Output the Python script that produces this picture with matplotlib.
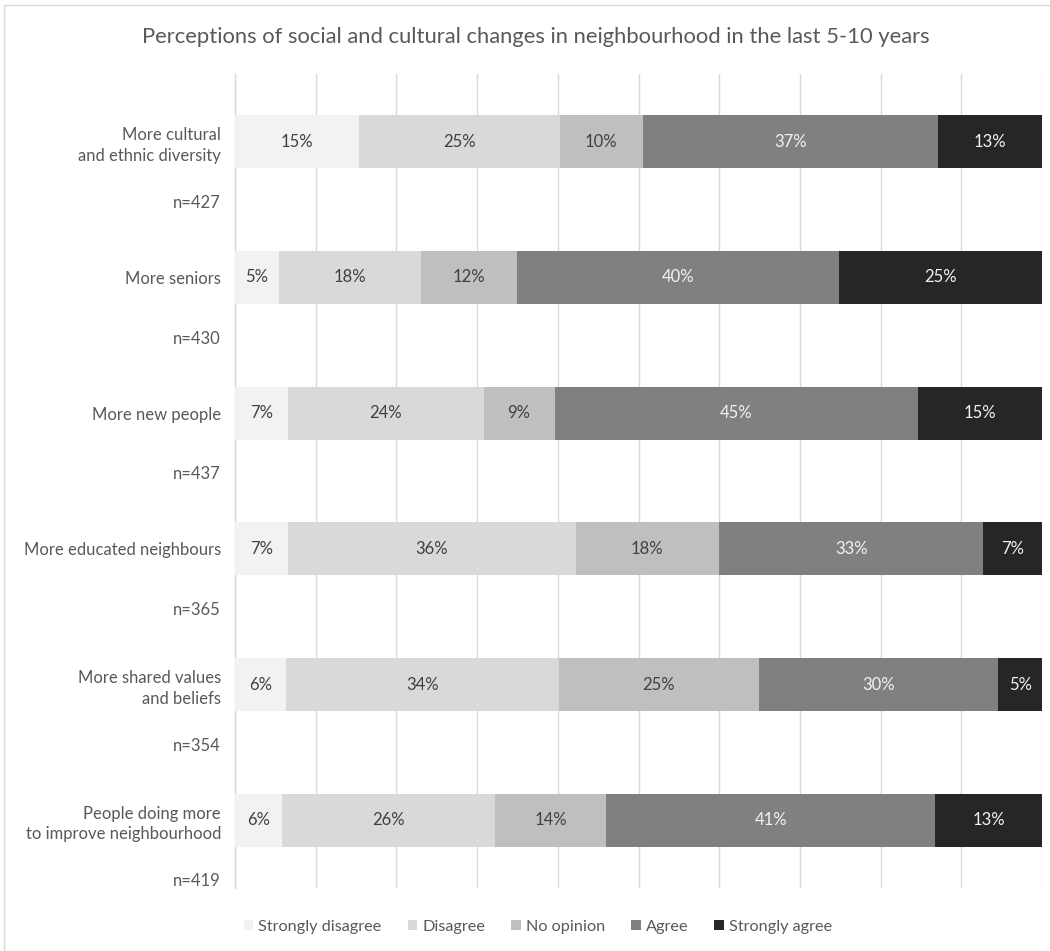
import matplotlib
matplotlib.use("Agg")
import matplotlib.pyplot as plt
from matplotlib.patches import Rectangle, Patch
import numpy as np

plt.rcParams['font.family'] = ['Lato', 'DejaVu Sans']

categories = ["More cultural\nand ethnic diversity", "More seniors", "More new people",
              "More educated neighbours", "More shared values\nand beliefs",
              "People doing more\nto improve neighbourhood"]
sample_sizes = ["n=427", "n=430", "n=437", "n=365", "n=354", "n=419"]
series_names = ["Strongly disagree", "Disagree", "No opinion", "Agree", "Strongly agree"]
strongly_disagree = [15.4, 5.4, 6.6, 6.6, 6.3, 5.8]
disagree = [24.9, 17.6, 24.2, 35.6, 33.8, 26.4]
no_opinion = [10.2, 11.9, 8.8, 17.8, 24.8, 13.8]
agree = [36.6, 40.0, 45.0, 32.7, 29.7, 40.8]
strongly_agree = [12.9, 25.1, 15.4, 7.3, 5.4, 13.2]

colors = ["#F2F2F2", "#D9D9D9", "#BFBFBF", "#808080", "#262626"]
text_colors = ["#404040", "#404040", "#404040", "#F2F2F2", "#F2F2F2"]

W, H = 1050, 951
fig = plt.figure(figsize=(W / 100, H / 100), dpi=100)
fig.patch.set_facecolor("white")

# outer chart frame (Excel chart area border)
fig.patches.append(Rectangle((4 / W, -0.01), 1.1, 1 - 5 / H + 0.01, transform=fig.transFigure,
                             fill=False, edgecolor="#D9D9D9", linewidth=1.0))

ax = fig.add_axes([235 / W, 1 - 888 / H, (1042 - 235) / W, (888 - 74) / H])

y = np.arange(len(categories))
left = np.zeros(len(categories))
series = [strongly_disagree, disagree, no_opinion, agree, strongly_agree]
for vals, name, c, tc in zip(series, series_names, colors, text_colors):
    vals = np.array(vals)
    ax.barh(y, vals, left=left, height=0.39, color=c, label=name, zorder=3)
    for yi, l, v in zip(y, left, vals):
        ax.text(l + v / 2, yi, f"{v:.0f}%", ha="center", va="center",
                fontsize=12, color=tc, zorder=4)
    left = left + vals

ax.set_xlim(0, 100)
ax.set_ylim(len(categories) - 0.5, -0.5)
ax.set_xticks(np.arange(0, 101, 10))
ax.xaxis.grid(True, color="#D9D9D9", linewidth=1.0, zorder=0)
ax.tick_params(axis="x", length=0, labelbottom=False)
for s in ["top", "right", "bottom"]:
    ax.spines[s].set_visible(False)
ax.spines["left"].set_color("#D9D9D9")
ax.spines["left"].set_linewidth(1.0)

ticks = []
labels = []
for i in range(len(categories)):
    ticks += [i, i + 0.44]
    labels += [categories[i], sample_sizes[i]]
ax.set_yticks(ticks)
ax.set_yticklabels(labels, fontsize=12, color="#595959", linespacing=1.35)
ax.tick_params(axis="y", length=0, pad=10)

fig.text(536 / W, 1 - 37 / H, "Perceptions of social and cultural changes in neighbourhood in the last 5-10 years",
         ha="center", va="center", fontsize=15.8, color="#595959")

handles = [Patch(facecolor=c, edgecolor="none", label=n) for c, n in zip(colors, series_names)]
fig.legend(handles=handles, loc="center", bbox_to_anchor=(538 / W, 1 - 927 / H), ncol=5,
           frameon=False, fontsize=11.7, labelcolor="#595959", handlelength=0.6, handleheight=0.6,
           handletextpad=0.3, columnspacing=1.6)

fig.savefig("out.png", dpi=100, facecolor="white")
